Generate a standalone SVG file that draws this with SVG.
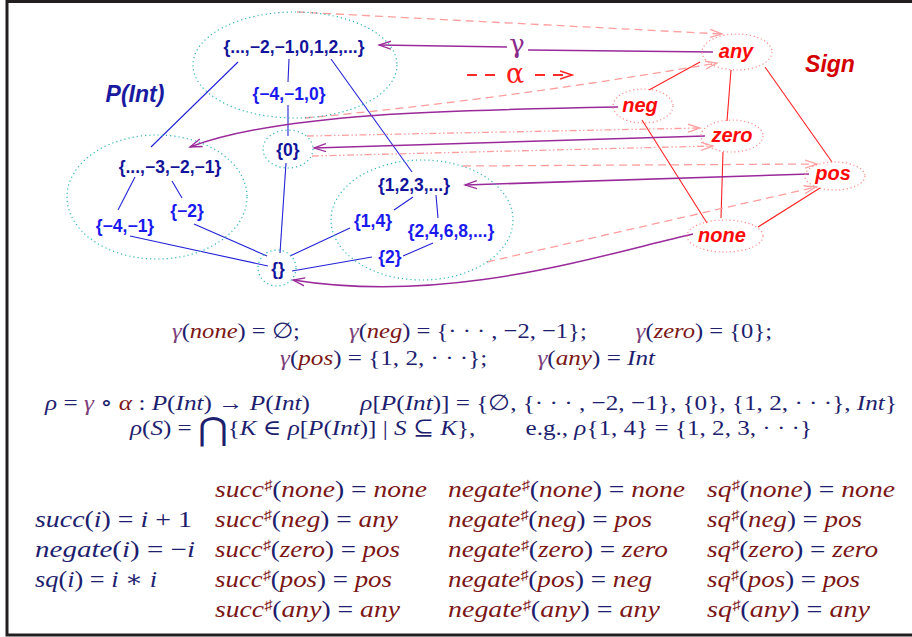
<svg xmlns="http://www.w3.org/2000/svg" width="912" height="637" viewBox="0 0 912 637">
<defs>
<marker id="ap" markerUnits="userSpaceOnUse" markerWidth="14" markerHeight="10" refX="12" refY="5" orient="auto"><path d="M0,1 L12,5 L0,9" fill="none" stroke="#9a2a9a" stroke-width="1.3"/></marker>
<marker id="aa" markerUnits="userSpaceOnUse" markerWidth="14" markerHeight="10" refX="12" refY="5" orient="auto"><path d="M0,1 L12,5 L0,9" fill="none" stroke="#ff9e9e" stroke-width="1.3"/></marker>
<marker id="ar" markerUnits="userSpaceOnUse" markerWidth="14" markerHeight="10" refX="12" refY="5" orient="auto"><path d="M0,1 L12,5 L0,9" fill="none" stroke="#ff2a2a" stroke-width="1.6"/></marker>
</defs>
<style>
.bd{fill:none;stroke:#231f20;stroke-width:3}
.cy{fill:none;stroke:#2fb5b5;stroke-width:1.2;stroke-dasharray:1.2 3}
.pk{fill:none;stroke:#ff8c8c;stroke-width:1.2;stroke-dasharray:1.2 2.6}
.bl{stroke:#2323d6;stroke-width:1.1}
.rd{stroke:#ff2222;stroke-width:1.1}
.gm{fill:none;stroke:#9a2a9a;stroke-width:1.5}
.gma{marker-end:url(#ap)}
.al{fill:none;stroke:#ff9e9e;stroke-width:1.3;stroke-dasharray:8 5;marker-end:url(#aa)}
.ad{fill:none;stroke:#ff9e9e;stroke-width:1.3;stroke-dasharray:7 2.5 1.5 2.5 1.5 2.5;marker-end:url(#aa)}
.nt{font-family:"Liberation Sans",Arial,sans-serif;font-weight:bold;font-size:17.5px;text-anchor:middle}
.nv{fill:#14149a}
.nb{fill:#1a1aee}
.st{font-family:"Liberation Sans",Arial,sans-serif;font-weight:bold;font-style:italic;font-size:20px;fill:#ff0a0a;text-anchor:middle}
.m{font-family:"Liberation Serif","DejaVu Serif",serif;font-size:22px;fill:#1e1e6e}
.big text{font-size:23.5px}
.i{font-style:italic}
.r{fill:#7b1616}
.g{fill:#7c3f7c}
.sh{font-size:14px;fill:#7b1616}
</style>
<rect class="bd" x="7" y="1.5" width="920" height="633.5"/>

<g id="connectors">
  <line class="bl" x1="238" y1="62" x2="151" y2="147"/>
  <line class="bl" x1="289" y1="59" x2="288" y2="82"/>
  <line class="bl" x1="288" y1="105" x2="288" y2="136"/>
  <line class="bl" x1="331" y1="59" x2="412" y2="172"/>
  <line class="bl" x1="135" y1="177" x2="118" y2="210"/>
  <line class="bl" x1="172" y1="181" x2="182" y2="198"/>
  <line class="bl" x1="130" y1="236" x2="268" y2="266"/>
  <line class="bl" x1="194" y1="224" x2="267" y2="256"/>
  <line class="bl" x1="286" y1="163" x2="280" y2="253"/>
  <line class="bl" x1="290" y1="256" x2="350" y2="228"/>
  <line class="bl" x1="292" y1="271" x2="372" y2="257"/>
  <line class="bl" x1="403" y1="256" x2="433" y2="243"/>
  <line class="bl" x1="413" y1="197" x2="394" y2="210"/>
  <line class="bl" x1="436" y1="195" x2="438" y2="218"/>
  <line class="rd" x1="700" y1="62" x2="649" y2="90"/>
  <line class="rd" x1="731" y1="70" x2="727" y2="121"/>
  <line class="rd" x1="765" y1="67" x2="832" y2="162"/>
  <line class="rd" x1="642" y1="120" x2="707" y2="223"/>
  <line class="rd" x1="723" y1="152" x2="721" y2="218"/>
  <line class="rd" x1="758" y1="227" x2="820" y2="188"/>
  <line class="al" x1="297" y1="12" x2="722" y2="34"/>
  <path class="al" d="M305,118 Q500,100 717,63"/>
  <line class="ad" x1="307" y1="136" x2="700" y2="128"/>
  <line class="ad" x1="312" y1="156" x2="713" y2="146"/>
  <line class="al" x1="463" y1="166" x2="817" y2="164"/>
  <line class="al" x1="487" y1="262" x2="816" y2="187"/>
  <line class="gm" x1="713" y1="52" x2="528" y2="50"/>
  <line class="gm gma" x1="507" y1="47" x2="379" y2="45"/>
  <path class="gm gma" d="M618,107 C450,110 280,113 190,147"/>
  <line class="gm gma" x1="705" y1="136" x2="314" y2="148"/>
  <line class="gm gma" x1="809" y1="174" x2="465" y2="185"/>
  <path class="gm gma" d="M693,234 C600,255 450,305 293,280"/>
</g>

<g id="legend">
  <text x="517" y="53" font-family="DejaVu Serif,Liberation Serif,serif" font-size="26" fill="#8a2a8a" text-anchor="middle">γ</text>
  <line x1="467" y1="75" x2="497" y2="75" stroke="#ff2a2a" stroke-width="2" stroke-dasharray="10 8"/>
  <text x="515" y="83" font-family="DejaVu Serif,Liberation Serif,serif" font-size="27" fill="#ff1a1a" text-anchor="middle">α</text>
  <line x1="535" y1="75" x2="572" y2="75" stroke="#ff2a2a" stroke-width="2" stroke-dasharray="10 8" marker-end="url(#ar)"/>
</g>

<g id="sets-top"><ellipse class="cy" cx="295" cy="65" rx="102" ry="53"/></g>
<g id="sets-neg"><ellipse class="cy" cx="157" cy="197" rx="90" ry="62"/></g>
<g id="sets-pos"><ellipse class="cy" cx="422" cy="220" rx="91" ry="60"/></g>

<g id="n-int"><text class="nt nv" x="294" y="53">{...,−2,−1,0,1,2,...}</text></g>
<g id="n-m410"><text class="nt nb" x="289" y="100">{−4,−1,0}</text></g>
<g id="n-zero"><ellipse class="cy" cx="288" cy="149" rx="25" ry="19"/><text class="nt nv" x="288" y="156">{0}</text></g>
<g id="n-negs"><text class="nt nv" x="170" y="173">{...,−3,−2,−1}</text></g>
<g id="n-m2"><text class="nt nb" x="187" y="217">{−2}</text></g>
<g id="n-m41"><text class="nt nb" x="125" y="232">{−4,−1}</text></g>
<g id="n-empty"><ellipse class="cy" cx="277" cy="268" rx="19" ry="18"/><text class="nt nv" x="278" y="275">{}</text></g>
<g id="n-poss"><text class="nt nv" x="414" y="191">{1,2,3,...}</text></g>
<g id="n-14"><text class="nt nb" x="373" y="227">{1,4}</text></g>
<g id="n-even"><text class="nt nb" x="451" y="237">{2,4,6,8,...}</text></g>
<g id="n-2"><text class="nt nb" x="390" y="263">{2}</text></g>
<g id="t-pint"><text x="135" y="102" font-family="Liberation Sans,Arial,sans-serif" font-weight="bold" font-style="italic" font-size="23" fill="#1a1aa0" text-anchor="middle">P(Int)</text></g>

<g id="s-any"><ellipse class="pk" cx="737" cy="52" rx="35" ry="18"/><text class="st" x="736" y="58">any</text></g>
<g id="s-neg"><ellipse class="pk" cx="643" cy="106" rx="30" ry="17"/><text class="st" x="640" y="112">neg</text></g>
<g id="s-zero"><ellipse class="pk" cx="732" cy="136" rx="31" ry="16"/><text class="st" x="732" y="142">zero</text></g>
<g id="s-pos"><ellipse class="pk" cx="835" cy="176" rx="30" ry="14"/><text class="st" x="833" y="180">pos</text></g>
<g id="s-none"><ellipse class="pk" cx="725" cy="236" rx="38" ry="16"/><text class="st" x="722" y="242">none</text></g>
<g id="t-sign"><text x="830" y="72" font-family="Liberation Sans,Arial,sans-serif" font-weight="bold" font-style="italic" font-size="23" fill="#d40000" text-anchor="middle">Sign</text></g>

<g id="formulas" class="m">
  <text x="172" y="338" textLength="600" lengthAdjust="spacingAndGlyphs"><tspan class="g i">γ</tspan>(<tspan class="i r">none</tspan>) = ∅;&#8195;&#8195;<tspan class="g i">γ</tspan>(<tspan class="i r">neg</tspan>) = {· · · , −2, −1};&#8195;&#8195;<tspan class="g i">γ</tspan>(<tspan class="i r">zero</tspan>) = {0};</text>
  <text x="280" y="365" textLength="375" lengthAdjust="spacingAndGlyphs"><tspan class="g i">γ</tspan>(<tspan class="i r">pos</tspan>) = {1, 2, · · ·};&#8195;&#8195;<tspan class="g i">γ</tspan>(<tspan class="i r">any</tspan>) = <tspan class="i">Int</tspan></text>
  <text x="45" y="410" textLength="852" lengthAdjust="spacingAndGlyphs"><tspan class="i">ρ</tspan> = <tspan class="g i">γ</tspan> ∘ <tspan class="r i">α</tspan> : <tspan class="i">P</tspan>(<tspan class="i">Int</tspan>) → <tspan class="i">P</tspan>(<tspan class="i">Int</tspan>)&#8195;&#8195;<tspan class="i">ρ</tspan>[<tspan class="i">P</tspan>(<tspan class="i">Int</tspan>)] = {∅, {· · · , −2, −1}, {0}, {1, 2, · · ·}, <tspan class="i">Int</tspan>}</text>
  <text x="130" y="435" textLength="682" lengthAdjust="spacingAndGlyphs"><tspan class="i">ρ</tspan>(<tspan class="i">S</tspan>) = <tspan font-size="32" dy="5">⋂</tspan><tspan dy="-5">{</tspan><tspan class="i">K</tspan> ∈ <tspan class="i">ρ</tspan>[<tspan class="i">P</tspan>(<tspan class="i">Int</tspan>)] | <tspan class="i">S</tspan> ⊆ <tspan class="i">K</tspan>},&#8195;&#8195;e.g., <tspan class="i">ρ</tspan>{1, 4} = {1, 2, 3, · · ·}</text>
</g>
<g id="functions" class="m big">
  <text x="35" y="527" textLength="157" lengthAdjust="spacingAndGlyphs"><tspan class="i">succ</tspan>(<tspan class="i">i</tspan>) = <tspan class="i">i</tspan> + 1</text>
  <text x="35" y="557" textLength="160" lengthAdjust="spacingAndGlyphs"><tspan class="i">negate</tspan>(<tspan class="i">i</tspan>) = −<tspan class="i">i</tspan></text>
  <text x="35" y="587" textLength="122" lengthAdjust="spacingAndGlyphs"><tspan class="i">sq</tspan>(<tspan class="i">i</tspan>) = <tspan class="i">i</tspan> ∗ <tspan class="i">i</tspan></text>

  <text x="215" y="497" textLength="212" lengthAdjust="spacingAndGlyphs"><tspan class="i r">succ</tspan><tspan class="sh" dy="-7">♯</tspan><tspan dy="7">(</tspan><tspan class="i r">none</tspan>) = <tspan class="i r">none</tspan></text>
  <text x="215" y="527" textLength="183" lengthAdjust="spacingAndGlyphs"><tspan class="i r">succ</tspan><tspan class="sh" dy="-7">♯</tspan><tspan dy="7">(</tspan><tspan class="i r">neg</tspan>) = <tspan class="i r">any</tspan></text>
  <text x="215" y="557" textLength="185" lengthAdjust="spacingAndGlyphs"><tspan class="i r">succ</tspan><tspan class="sh" dy="-7">♯</tspan><tspan dy="7">(</tspan><tspan class="i r">zero</tspan>) = <tspan class="i r">pos</tspan></text>
  <text x="215" y="587" textLength="177" lengthAdjust="spacingAndGlyphs"><tspan class="i r">succ</tspan><tspan class="sh" dy="-7">♯</tspan><tspan dy="7">(</tspan><tspan class="i r">pos</tspan>) = <tspan class="i r">pos</tspan></text>
  <text x="215" y="617" textLength="185" lengthAdjust="spacingAndGlyphs"><tspan class="i r">succ</tspan><tspan class="sh" dy="-7">♯</tspan><tspan dy="7">(</tspan><tspan class="i r">any</tspan>) = <tspan class="i r">any</tspan></text>

  <text x="448" y="497" textLength="237" lengthAdjust="spacingAndGlyphs"><tspan class="i r">negate</tspan><tspan class="sh" dy="-7">♯</tspan><tspan dy="7">(</tspan><tspan class="i r">none</tspan>) = <tspan class="i r">none</tspan></text>
  <text x="448" y="527" textLength="204" lengthAdjust="spacingAndGlyphs"><tspan class="i r">negate</tspan><tspan class="sh" dy="-7">♯</tspan><tspan dy="7">(</tspan><tspan class="i r">neg</tspan>) = <tspan class="i r">pos</tspan></text>
  <text x="448" y="557" textLength="220" lengthAdjust="spacingAndGlyphs"><tspan class="i r">negate</tspan><tspan class="sh" dy="-7">♯</tspan><tspan dy="7">(</tspan><tspan class="i r">zero</tspan>) = <tspan class="i r">zero</tspan></text>
  <text x="448" y="587" textLength="204" lengthAdjust="spacingAndGlyphs"><tspan class="i r">negate</tspan><tspan class="sh" dy="-7">♯</tspan><tspan dy="7">(</tspan><tspan class="i r">pos</tspan>) = <tspan class="i r">neg</tspan></text>
  <text x="448" y="617" textLength="212" lengthAdjust="spacingAndGlyphs"><tspan class="i r">negate</tspan><tspan class="sh" dy="-7">♯</tspan><tspan dy="7">(</tspan><tspan class="i r">any</tspan>) = <tspan class="i r">any</tspan></text>

  <text x="707" y="497" textLength="188" lengthAdjust="spacingAndGlyphs"><tspan class="i r">sq</tspan><tspan class="sh" dy="-7">♯</tspan><tspan dy="7">(</tspan><tspan class="i r">none</tspan>) = <tspan class="i r">none</tspan></text>
  <text x="707" y="527" textLength="155" lengthAdjust="spacingAndGlyphs"><tspan class="i r">sq</tspan><tspan class="sh" dy="-7">♯</tspan><tspan dy="7">(</tspan><tspan class="i r">neg</tspan>) = <tspan class="i r">pos</tspan></text>
  <text x="707" y="557" textLength="171" lengthAdjust="spacingAndGlyphs"><tspan class="i r">sq</tspan><tspan class="sh" dy="-7">♯</tspan><tspan dy="7">(</tspan><tspan class="i r">zero</tspan>) = <tspan class="i r">zero</tspan></text>
  <text x="707" y="587" textLength="153" lengthAdjust="spacingAndGlyphs"><tspan class="i r">sq</tspan><tspan class="sh" dy="-7">♯</tspan><tspan dy="7">(</tspan><tspan class="i r">pos</tspan>) = <tspan class="i r">pos</tspan></text>
  <text x="707" y="617" textLength="163" lengthAdjust="spacingAndGlyphs"><tspan class="i r">sq</tspan><tspan class="sh" dy="-7">♯</tspan><tspan dy="7">(</tspan><tspan class="i r">any</tspan>) = <tspan class="i r">any</tspan></text>
</g>
</svg>
